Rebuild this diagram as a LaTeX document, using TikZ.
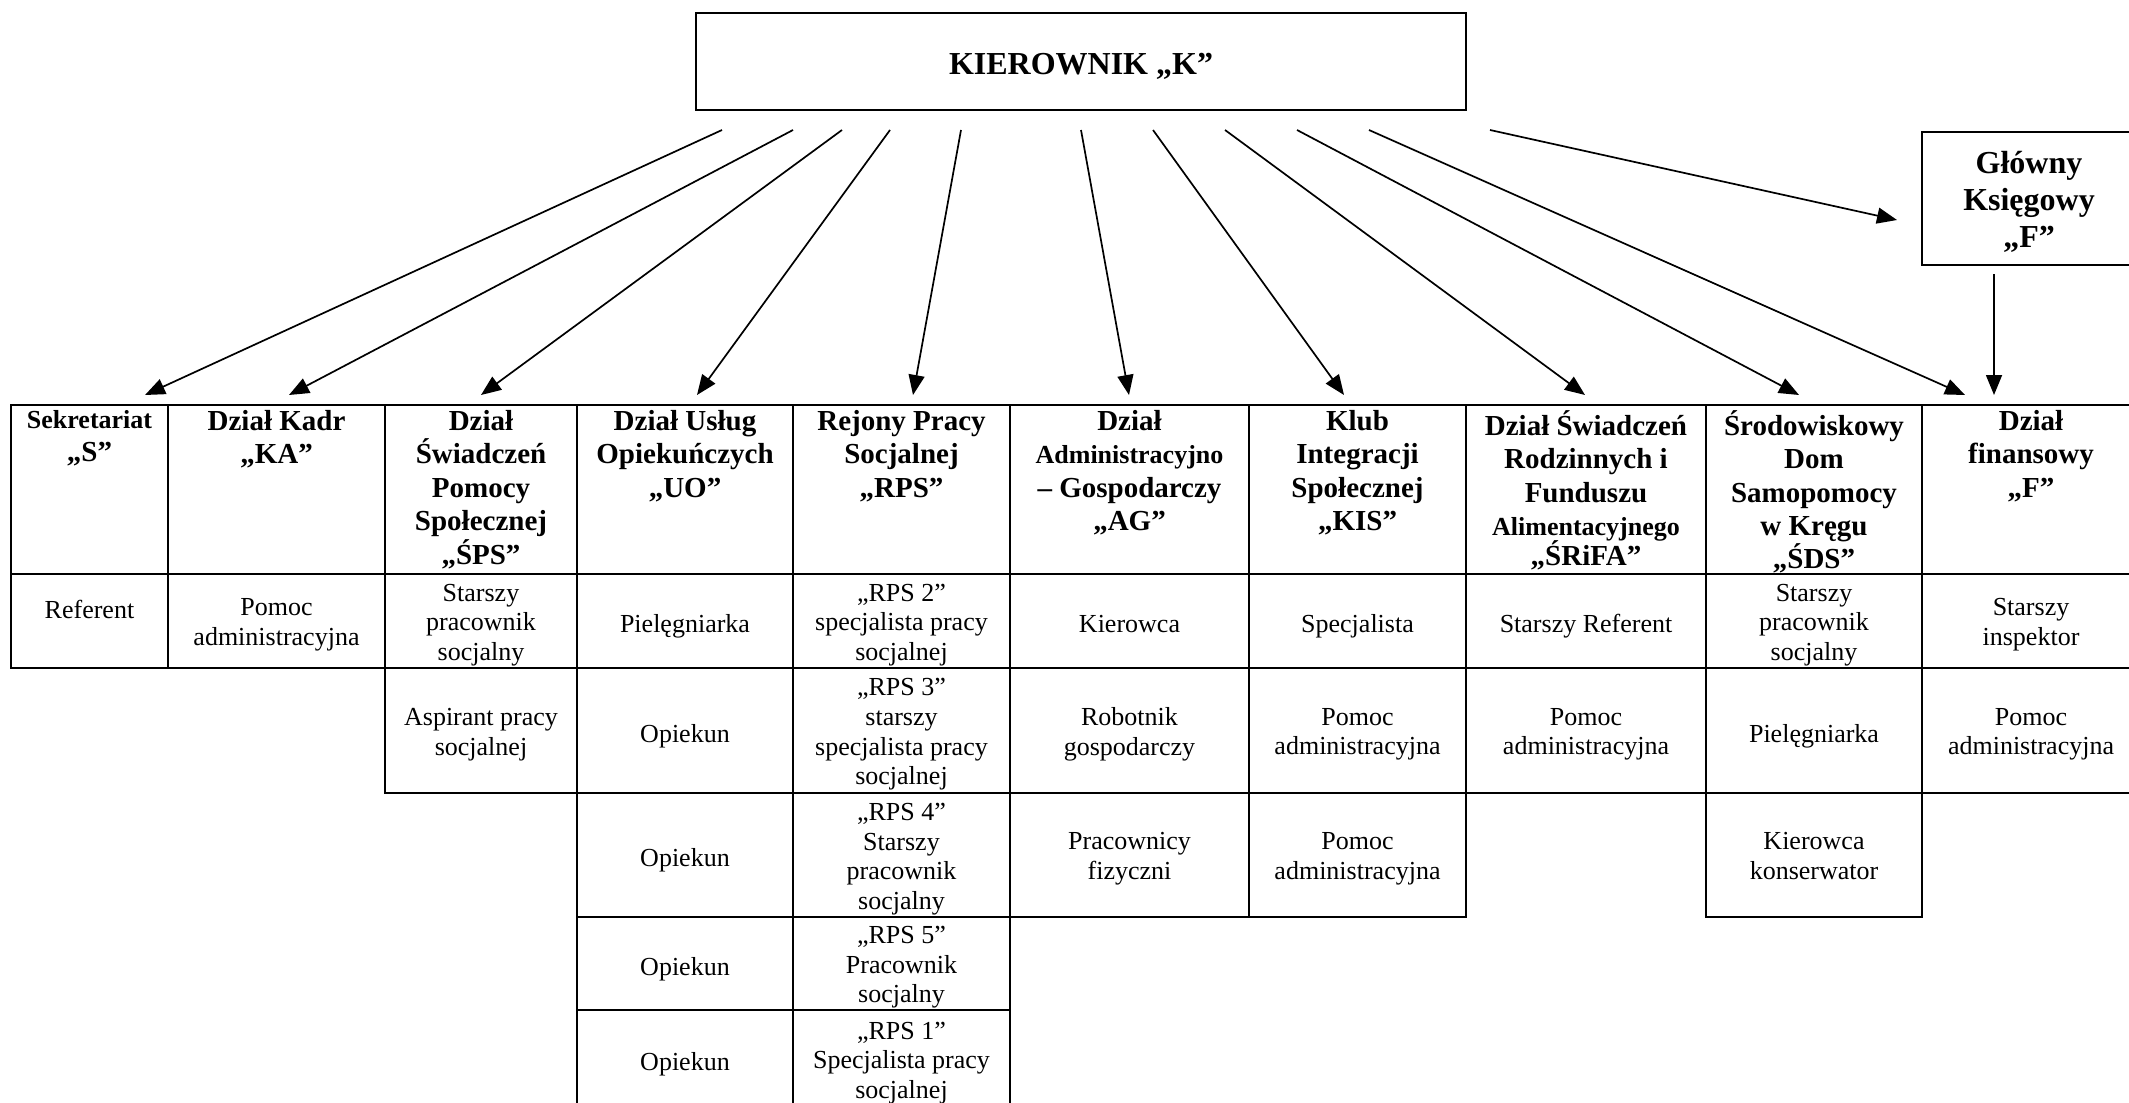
\documentclass[tikz,border=0pt]{standalone}
\usepackage{fontspec}
\setmainfont{Liberation Serif}
\usetikzlibrary{arrows.meta}
\tikzset{
  grid/.style={line width=0.8pt},
  head/.style={font=\bfseries\fontsize{14.5}{16.7}\selectfont, align=center, inner sep=0pt, anchor=north, execute at begin node=\rule{0pt}{16pt}},
  body/.style={font=\fontsize{13}{14.8}\selectfont, align=center, inner sep=0pt, yshift=-2.8pt, execute at begin node=\strut, execute at end node=\strut},
  conn/.style={line width=0.85pt, -{Triangle[length=10pt,width=8pt]}},
  titletext/.style={font=\bfseries\fontsize{16}{18.4}\selectfont, align=center, inner sep=0pt}
}
\newcommand{\orgcell}[6]{\draw[grid] (#2,#3) rectangle (#4,#5); \node[body] (#1) at ({(#2+#4)/2},{(#3+#5)/2}) {#6};}
\newcommand{\orghead}[4]{\draw[grid] (#2,405) rectangle (#3,574); \node[head] (#1) at ({(#2+#3)/2},410) {#4};}
\begin{document}
\begin{tikzpicture}[x=0.5pt,y=-0.5pt]
\useasboundingbox (0,0) rectangle (2129,1102);
% top boxes
\draw[grid] (696,13) rectangle (1466,110);
\node[titletext] (K) at (1081,66) {KIEROWNIK „K”};
\draw[grid] (1922,132) rectangle (2140,265);
\node[titletext] (G) at (2029,202) {Główny\\Księgowy\\„F”};
% headers
\orghead{hS}{11}{168}{{\fontsize{13}{16.7}\selectfont Sekretariat}\\„S”}
\orghead{hKA}{168}{385}{Dział Kadr\\„KA”}
\orghead{hSPS}{385}{577}{Dział\\Świadczeń\\Pomocy\\Społecznej\\„ŚPS”}
\orghead{hUO}{577}{793}{Dział Usług\\Opiekuńczych\\„UO”}
\orghead{hRPS}{793}{1010}{Rejony Pracy\\Socjalnej\\„RPS”}
\orghead{hAG}{1010}{1249}{Dział\\{\fontsize{13}{16.7}\selectfont Administracyjno}\\– Gospodarczy\\„AG”}
\orghead{hKIS}{1249}{1466}{Klub\\Integracji\\Społecznej\\„KIS”}
\orghead{hSR}{1466}{1706}{Dział Świadczeń\\Rodzinnych i\\Funduszu\\{\fontsize{13}{16.7}\selectfont Alimentacyjnego}\\[-1.5pt]„ŚRiFA”}
\orghead{hSDS}{1706}{1922}{Środowiskowy\\Dom\\Samopomocy\\w Kręgu\\„ŚDS”}
\orghead{hF}{1922}{2140}{Dział\\finansowy\\„F”}
% row 1
\draw[grid] (11,574) rectangle (168,668);
\node[body] (aS) at (89.5,606.5) {Referent};
\orgcell{aKA}{168}{574}{385}{668}{Pomoc\\administracyjna}
\orgcell{aSPS}{385}{574}{577}{668}{Starszy\\pracownik\\socjalny}
\orgcell{aUO}{577}{574}{793}{668}{Pielęgniarka}
\orgcell{aRPS}{793}{574}{1010}{668}{„RPS 2”\\specjalista pracy\\socjalnej}
\orgcell{aAG}{1010}{574}{1249}{668}{Kierowca}
\orgcell{aKIS}{1249}{574}{1466}{668}{Specjalista}
\orgcell{aSR}{1466}{574}{1706}{668}{Starszy Referent}
\orgcell{aSDS}{1706}{574}{1922}{668}{Starszy\\pracownik\\socjalny}
\orgcell{aF}{1922}{574}{2140}{668}{Starszy\\inspektor}
% row 2
\orgcell{bSPS}{385}{668}{577}{793}{Aspirant pracy\\socjalnej}
\orgcell{bUO}{577}{668}{793}{793}{Opiekun}
\orgcell{bRPS}{793}{668}{1010}{793}{„RPS 3”\\starszy\\specjalista pracy\\socjalnej}
\orgcell{bAG}{1010}{668}{1249}{793}{Robotnik\\gospodarczy}
\orgcell{bKIS}{1249}{668}{1466}{793}{Pomoc\\administracyjna}
\orgcell{bSR}{1466}{668}{1706}{793}{Pomoc\\administracyjna}
\orgcell{bSDS}{1706}{668}{1922}{793}{Pielęgniarka}
\orgcell{bF}{1922}{668}{2140}{793}{Pomoc\\administracyjna}
% row 3
\orgcell{cUO}{577}{793}{793}{917}{Opiekun}
\orgcell{cRPS}{793}{793}{1010}{917}{„RPS 4”\\Starszy\\pracownik\\socjalny}
\orgcell{cAG}{1010}{793}{1249}{917}{Pracownicy\\fizyczni}
\orgcell{cKIS}{1249}{793}{1466}{917}{Pomoc\\administracyjna}
\orgcell{cSDS}{1706}{793}{1922}{917}{Kierowca\\konserwator}
% row 4
\orgcell{dUO}{577}{917}{793}{1010}{Opiekun}
\orgcell{dRPS}{793}{917}{1010}{1010}{„RPS 5”\\Pracownik\\socjalny}
% row 5
\orgcell{eUO}{577}{1010}{793}{1108}{Opiekun}
\orgcell{eRPS}{793}{1010}{1010}{1108}{„RPS 1”\\Specjalista pracy\\socjalnej}
% arrow coordinates
\coordinate (s1) at (722,130);  \coordinate (t1) at (145,395);
\coordinate (s2) at (793,130);  \coordinate (t2) at (289,395);
\coordinate (s3) at (842,130);  \coordinate (t3) at (481,395);
\coordinate (s4) at (890,130);  \coordinate (t4) at (697,395);
\coordinate (s5) at (961,130);  \coordinate (t5) at (913,395);
\coordinate (s6) at (1081,130); \coordinate (t6) at (1129,395);
\coordinate (s7) at (1153,130); \coordinate (t7) at (1344,395);
\coordinate (s8) at (1225,130); \coordinate (t8) at (1585,395);
\coordinate (s9) at (1297,130); \coordinate (t9) at (1799,395);
\coordinate (s10) at (1369,130); \coordinate (t10) at (1965,395);
\coordinate (s11) at (1490,130); \coordinate (t11) at (1897,220);
\coordinate (g1) at (1994,274); \coordinate (g2) at (1994,395);
\foreach \i in {1,...,11} {\draw[conn] (s\i) -- (t\i);}
\draw[conn] (g1) -- (g2);
\end{tikzpicture}
\end{document}
